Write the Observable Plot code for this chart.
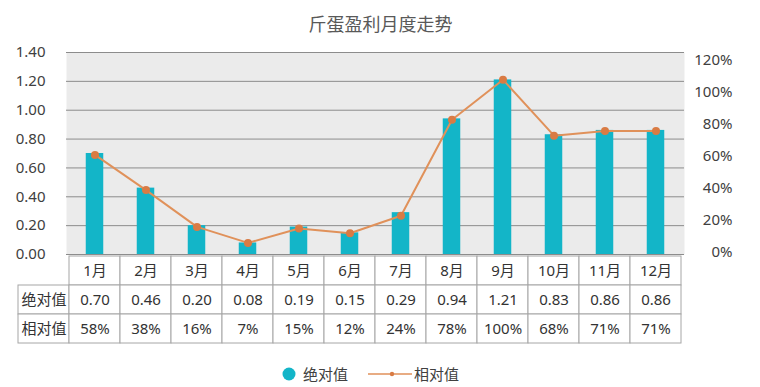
<!DOCTYPE html>
<html>
<head>
<meta charset="utf-8">
<script src="https://cdn.jsdelivr.net/npm/d3@7"></script>
<script src="https://cdn.jsdelivr.net/npm/@observablehq/plot@0.6"></script>
<style>
  html, body { margin: 0; padding: 0; background: #ffffff; }
  #wrap { position: relative; width: 760px; height: 387px; overflow: hidden; font-family: "Noto Sans", "Noto Sans CJK SC", sans-serif; }
  #wrap svg { overflow: visible; }
  #chart { position: absolute; left: 0; top: 0; }
  #table { position: absolute; left: 0; top: 254px; }
  #legend { position: absolute; left: 0; top: 360px; width: 760px; height: 27px; }
  .leg { position: absolute; font-size: 15px; color: #404040; line-height: 28px; top: 0; font-family: "Noto Sans CJK SC", sans-serif; }
</style>
</head>
<body>
<div id="wrap">
  <div id="chart"></div>
  <div id="table"></div>
  <div id="legend">
    <svg width="760" height="27" style="position:absolute;left:0;top:0">
      <circle cx="289" cy="14" r="6.5" fill="#13b5c8"></circle>
      <line x1="368" x2="412" y1="14" y2="14" stroke="#e0915a" stroke-width="1.5"></line>
      <circle cx="392" cy="14" r="2.2" fill="#d97b44"></circle>
    </svg>
    <span class="leg" style="left:303px">绝对值</span>
    <span class="leg" style="left:414px">相对值</span>
  </div>
</div>
<script>
const title = "斤蛋盈利月度走势";
const months = ["1月","2月","3月","4月","5月","6月","7月","8月","9月","10月","11月","12月"];
const absVals = [0.70, 0.46, 0.20, 0.08, 0.19, 0.15, 0.29, 0.94, 1.21, 0.83, 0.86, 0.86];
const relVals = [58, 38, 16, 7, 15, 12, 24, 78, 100, 68, 71, 71];
// line points as drawn (read on the right axis, %)
const linePts = [61, 39, 16, 6, 15, 12, 23, 83, 108, 73, 76, 76];
const leftTicks = [0, 0.2, 0.4, 0.6, 0.8, 1.0, 1.2, 1.4];
const rightTicks = [0, 20, 40, 60, 80, 100, 120];
const rowLabels = ["", "绝对值", "相对值"];

// right axis (0%..120%) sits on the left-axis scale
const toLeft = v => 0.0139 + v * (1.3307 / 120);

const data = months.map((m, i) => ({month: m, abs: absVals[i], rel: relVals[i], line: linePts[i]}));
const font = "'Noto Sans', 'Noto Sans CJK SC', sans-serif";

const chart = Plot.plot({
  width: 760, height: 262,
  marginTop: 52, marginBottom: 8, marginLeft: 66, marginRight: 76,
  x: {domain: months, padding: 0, axis: null},
  y: {domain: [0, 1.4], axis: null, label: null},
  style: {fontFamily: font, fontSize: "15px", color: "#404040", background: "transparent"},
  marks: [
    Plot.frame({fill: "#ebebeb", stroke: null}),
    Plot.ruleY(leftTicks, {stroke: "#8c8c8c", strokeWidth: 1}),
    Plot.barY(data, {x: "month", y: "abs", fill: "#13b5c8", insetLeft: 16.75, insetRight: 16.75}),
    Plot.line(data, {x: "month", y: d => toLeft(d.line), stroke: "#e0915a", strokeWidth: 2}),
    Plot.dot(data, {x: "month", y: d => toLeft(d.line), r: 4, fill: "#d97b44"}),
    Plot.axisY(leftTicks, {tickFormat: d3.format(".2f"), tickSize: 0, tickPadding: 21, fontSize: 15, fill: "#404040", label: null}),
    Plot.text(rightTicks, {y: d => toLeft(d), text: d => d + "%", frameAnchor: "right", textAnchor: "end", dx: 48, fontSize: 15, fill: "#404040"}),
    Plot.text([title], {frameAnchor: "top", dx: 5, dy: -34, fontSize: 18, fill: "#595959", fontFamily: "'Noto Sans CJK SC', sans-serif"})
  ]
});
document.getElementById("chart").appendChild(chart);

const cols = ["label", ...months];
const rows = ["head", "abs", "rel"];
const cells = [];
rows.forEach((r, ri) => {
  cols.forEach((c, ci) => {
    if (r === "head" && c === "label") return;
    let t;
    if (c === "label") t = rowLabels[ri];
    else if (r === "head") t = c;
    else if (r === "abs") t = d3.format(".2f")(absVals[ci - 1]);
    else t = relVals[ci - 1] + "%";
    cells.push({row: r, col: c, text: t});
  });
});

const table = Plot.plot({
  width: 760, height: 100,
  x: {domain: cols, range: [14, 684], padding: 0, axis: null},
  y: {domain: rows, range: [0.5, 89.5], padding: 0, axis: null},
  style: {fontFamily: font, fontSize: "15px", color: "#333333", background: "transparent"},
  marks: [
    Plot.cell(cells, {x: "col", y: "row", fill: "white", stroke: "#a6a6a6", strokeWidth: 1, inset: 0}),
    Plot.text(cells, {x: "col", y: "row", text: "text", fontSize: 15, fill: "#333333",
      fontFamily: d => d.col === "label" || d.row === "head" ? "'Noto Sans CJK SC', sans-serif" : font})
  ]
});
document.getElementById("table").appendChild(table);
</script>
</body>
</html>
